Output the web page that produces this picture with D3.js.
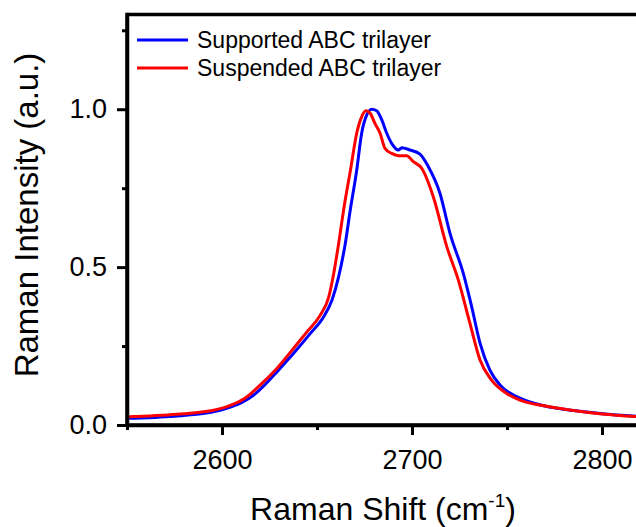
<!DOCTYPE html>
<html>
<head>
<meta charset="utf-8">
<script src="https://cdn.jsdelivr.net/npm/d3@7"></script>
<style>
  html, body { margin: 0; padding: 0; background: #fff; }
  svg { display: block; }
  text { font-family: Arial, "Liberation Sans", sans-serif; fill: #000; }
</style>
</head>
<body>
<svg id="chart" width="636" height="527"></svg>
<script>
// ---- data ----
const seriesNames = ["Supported ABC trilayer", "Suspended ABC trilayer"];
const seriesColors = ["#0000ff", "#ff0000"];

const supportedShift = [2550, 2575, 2590, 2602, 2610, 2616.7, 2623, 2629, 2637.7, 2646.5, 2653.5, 2657.9, 2661.4, 2664.9, 2667.5, 2670.9, 2673.5, 2676.2, 2678.8, 2681.4, 2684.1, 2686.7, 2689.3, 2692.8, 2694.6, 2698.9, 2704.2, 2708.6, 2714.7, 2720, 2727, 2731.4, 2735.8, 2741, 2746.3, 2756.8, 2770, 2785, 2800, 2820];
const supportedIntensity = [0.021, 0.028, 0.036, 0.052, 0.07, 0.095, 0.13, 0.169, 0.227, 0.29, 0.343, 0.396, 0.47, 0.575, 0.681, 0.807, 0.924, 0.982, 1.0, 0.995, 0.966, 0.924, 0.892, 0.871, 0.878, 0.871, 0.858, 0.818, 0.734, 0.607, 0.48, 0.375, 0.259, 0.174, 0.127, 0.085, 0.06, 0.046, 0.036, 0.027];

const suspendedShift = [2550, 2576.3, 2593.9, 2602.6, 2611.4, 2620.2, 2629, 2637.7, 2644.7, 2651.7, 2656.2, 2658.8, 2661.4, 2664, 2667.6, 2670.9, 2673.5, 2675.8, 2677.9, 2680.5, 2683.2, 2685.8, 2689.3, 2692.8, 2697.2, 2700.7, 2705.1, 2711.2, 2718.3, 2724.4, 2730.5, 2735.8, 2741.9, 2749.8, 2756.8, 2770, 2785, 2800, 2820];
const suspendedIntensity = [0.026, 0.034, 0.045, 0.058, 0.082, 0.127, 0.18, 0.243, 0.295, 0.348, 0.406, 0.48, 0.575, 0.681, 0.807, 0.924, 0.976, 0.995, 0.988, 0.955, 0.924, 0.876, 0.86, 0.853, 0.853, 0.834, 0.813, 0.723, 0.565, 0.459, 0.322, 0.206, 0.142, 0.1, 0.079, 0.06, 0.046, 0.035, 0.026];

const xMajorTicks = [2600, 2700, 2800];
const xMinorTicks = [2550, 2650, 2750];
const yMajorTicks = [0.0, 0.5, 1.0];
const yMinorTicks = [0.25, 0.75, 1.25];

const xDomain = [2550, 2820];
const yDomain = [0, 1.3];

// ---- layout ----
const svg = d3.select("#chart");
const pLeft = 127, pRight = 640, pTop = 14.5, pBottom = 425;

const x = d3.scaleLinear().domain(xDomain).range([pLeft, pRight]);
const y = d3.scaleLinear().domain(yDomain).range([pBottom, pTop]);

const axisW = 3.5;

svg.append("defs").append("clipPath").attr("id", "clip")
  .append("rect").attr("x", pLeft).attr("y", pTop).attr("width", pRight - pLeft).attr("height", pBottom - pTop);

// curves
const series = [
  { shift: supportedShift, intensity: supportedIntensity },
  { shift: suspendedShift, intensity: suspendedIntensity }
];
const line = d3.line().x(d => x(d[0])).y(d => y(d[1])).curve(d3.curveMonotoneX);
series.forEach((s, i) => {
  const pts = s.shift.map((v, j) => [v, s.intensity[j]]);
  svg.append("path")
    .attr("clip-path", "url(#clip)")
    .attr("d", line(pts))
    .attr("fill", "none")
    .attr("stroke", seriesColors[i])
    .attr("stroke-width", 3)
    .attr("stroke-linejoin", "round");
});

// x axis
const gx = svg.append("g").attr("transform", `translate(0,${pBottom})`)
  .call(d3.axisBottom(x).tickValues(xMajorTicks).tickFormat(d3.format("d")).tickSize(10).tickPadding(15).tickSizeOuter(0));
const gxm = svg.append("g").attr("transform", `translate(0,${pBottom})`)
  .call(d3.axisBottom(x).tickValues(xMinorTicks).tickFormat("").tickSize(5).tickSizeOuter(0));
// y axis
const gy = svg.append("g").attr("transform", `translate(${pLeft},0)`)
  .call(d3.axisLeft(y).tickValues(yMajorTicks).tickFormat(d3.format(".1f")).tickSize(10).tickPadding(10).tickSizeOuter(0));
const gym = svg.append("g").attr("transform", `translate(${pLeft},0)`)
  .call(d3.axisLeft(y).tickValues(yMinorTicks).tickFormat("").tickSize(5).tickSizeOuter(0));

[gx, gxm, gy, gym].forEach(g => {
  g.selectAll(".domain").attr("stroke", "#000").attr("stroke-width", axisW);
  g.selectAll(".tick line").attr("stroke", "#000").attr("stroke-width", 3);
  g.selectAll(".tick text").attr("font-size", 27).attr("font-family", "Arial, 'Liberation Sans', sans-serif").attr("fill", "#000");
});
gx.select(".domain").attr("d", `M${pLeft - axisW/2},0H${pRight}`);
gy.select(".domain").attr("d", `M0,${pTop - axisW/2}V${pBottom + axisW/2}`);

// top and right frame
svg.append("line").attr("x1", pLeft).attr("x2", pRight).attr("y1", pTop).attr("y2", pTop)
  .attr("stroke", "#000").attr("stroke-width", axisW);
svg.append("line").attr("x1", pRight).attr("x2", pRight).attr("y1", pTop).attr("y2", pBottom)
  .attr("stroke", "#000").attr("stroke-width", axisW);

// legend
const legend = svg.append("g");
seriesNames.forEach((name, i) => {
  const ly = 40 + i * 28;
  legend.append("line").attr("x1", 137).attr("x2", 188).attr("y1", ly).attr("y2", ly)
    .attr("stroke", seriesColors[i]).attr("stroke-width", 3);
  legend.append("text").attr("x", 197).attr("y", ly + 8).attr("font-size", 23).text(name);
});

// axis titles
const xt = svg.append("text").attr("x", 383).attr("y", 520).attr("text-anchor", "middle").attr("font-size", 32);
xt.append("tspan").text("Raman Shift (cm");
xt.append("tspan").attr("font-size", 19).attr("dy", -13).text("-1");
xt.append("tspan").attr("dy", 13).text(")");

svg.append("text").attr("transform", `translate(38,215) rotate(-90)`)
  .attr("text-anchor", "middle").attr("font-size", 33).text("Raman Intensity (a.u.)");
</script>
</body>
</html>
